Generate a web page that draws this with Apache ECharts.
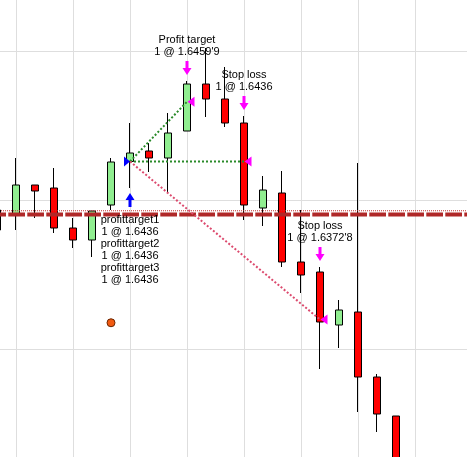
<!DOCTYPE html>
<html><head><meta charset="utf-8">
<script src="https://cdn.jsdelivr.net/npm/echarts@6/dist/echarts.min.js"></script>
<style>
html,body{margin:0;padding:0;background:#fff;width:467px;height:457px;overflow:hidden;position:relative}
#c{position:absolute;left:-3px;top:-98px;width:475px;height:596px}
</style>
</head><body><div id="c"></div>
<script>
// ---- data ----
const bars = ['1','2','3','4','5','6','7','8','9','10','11','12','13','14','15','16','17','18','19','20','21','22','23','24','25','26'];
const opens  = [1.64086,1.64150,1.64266,1.64254,1.64094,1.64046,1.64186,1.64360,1.64402,1.64374,1.64482,1.64670,1.64610,1.64514,1.64174,1.64234,1.63958,1.63918,1.63706,1.63758,1.63498,1.63342];
const closes = [1.64166,1.64266,1.64242,1.64094,1.64046,1.64162,1.64358,1.64394,1.64374,1.64474,1.64670,1.64610,1.64514,1.64186,1.64246,1.63958,1.63906,1.63718,1.63766,1.63498,1.63350,1.63106];
const lows   = [1.64078,1.64086,1.64134,1.64074,1.64014,1.63978,1.64166,1.64254,1.64318,1.64238,1.64482,1.64538,1.64498,1.64126,1.64102,1.63938,1.63834,1.63530,1.63614,1.63358,1.63278,1.63066];
const highs  = [1.64174,1.64374,1.64266,1.64334,1.64134,1.64162,1.64374,1.64514,1.64434,1.64554,1.64682,1.64814,1.64738,1.64542,1.64302,1.64322,1.64166,1.63938,1.63806,1.64354,1.63510,1.63342];

const entryBar = 7;
const entryPrice = 1.6436;
const entryNames = ['profittarget1','profittarget2','profittarget3'];
const entryQty = [1, 1, 1];

const exitBars = [10, 13, 17];
const exitPrices = [1.64599, 1.64360, 1.63728];
const exitNames = ['Profit target', 'Stop loss', 'Stop loss'];
const exitQty = [1, 1, 1];

const dashLevel = 1.64148;
const dotLevel = 1.64163;

const dotBar = 6;
const dotPrice = 1.63715;

// ---- helpers ----
function fmtPrice(p) {
  const s = p.toFixed(5);
  const main = s.slice(0, -1), last = s.slice(-1);
  return last === '0' ? main : main + "'" + last;
}
const candleData = bars.map((b, i) => (i < opens.length) ? [opens[i], closes[i], lows[i], highs[i]] : '-');
const lastBar = bars.length - 1;

const upArrow = 'path://M4.5,0 L9,7 L6,7 L6,14 L3,14 L3,7 L0,7 Z';
const downArrow = 'path://M3,0 L6,0 L6,7 L9,7 L4.5,14 L0,7 L3,7 Z';
const rightTri = 'path://M0,0 L6,5 L0,10 Z';
const leftTri = 'path://M0,5 L7,0 L7,10 Z';

const txt = { color: '#000', fontSize: 11, lineHeight: 12, fontFamily: 'Liberation Sans, Arial, sans-serif' };

const tradeLines = exitBars.map((xb, i) => ({
  type: 'line',
  data: [[entryBar, entryPrice], [xb, exitPrices[i]]],
  symbol: 'none',
  silent: true,
  z: 5,
  lineStyle: { width: 2, type: [2, 2], color: exitPrices[i] >= entryPrice ? '#2a8a2a' : '#dc4a6e' }
}));

const entryLabel = entryNames.map((n, i) => n + '\n' + entryQty[i] + ' @ ' + fmtPrice(entryPrice)).join('\n');

const chart = echarts.init(document.getElementById('c'), null, { renderer: 'canvas' });
chart.setOption({
  animation: false,
  backgroundColor: '#fff',
  grid: { left: 0, right: 0, top: 0, bottom: 0, containLabel: false },
  xAxis: {
    type: 'category', data: bars, boundaryGap: false,
    axisLine: { show: false }, axisTick: { show: false }, axisLabel: { show: false },
    splitLine: { show: true, interval: (i) => i % 3 === 1, lineStyle: { color: '#dedede', width: 1 } }
  },
  yAxis: [
    { type: 'value', min: 1.63014, max: 1.65398, axisLine: { show: false }, axisTick: { show: false }, axisLabel: { show: false }, splitLine: { show: false } },
    { type: 'value', min: 0, max: 4, interval: 1, position: 'right', axisLine: { show: false }, axisTick: { show: false }, axisLabel: { show: false }, splitLine: { show: true, lineStyle: { color: '#dedede', width: 1 } } }
  ],
  series: [
    {
      type: 'candlestick', data: candleData, barWidth: 8, z: 2, yAxisIndex: 0,
      itemStyle: { color: '#90ee90', color0: '#ff0000', borderColor: '#000', borderColor0: '#000', borderWidth: 1 }
    },
    {
      type: 'line', yAxisIndex: 0, z: 4, silent: true, symbol: 'none',
      data: [[0, dotLevel], [lastBar, dotLevel]],
      lineStyle: { color: '#c03030', width: 1, type: [1, 1] }
    },
    {
      type: 'line', yAxisIndex: 0, z: 4, silent: true, symbol: 'none',
      data: [[0, dashLevel], [lastBar, dashLevel]],
      lineStyle: { color: '#b02828', width: 4, type: [16.7, 2.3], dashOffset: 7.7 }
    },
    ...tradeLines,
    {
      type: 'scatter', z: 6, silent: true,
      data: [[dotBar, dotPrice]], symbol: 'circle', symbolSize: 8,
      itemStyle: { color: '#f25a10', borderColor: '#6b2500', borderWidth: 1, opacity: 1 }
    },
    {
      type: 'scatter', z: 6, silent: true,
      data: [[entryBar, entryPrice]], symbol: rightTri, symbolSize: [6, 10], symbolOffset: [-3, 0],
      itemStyle: { color: '#0000ff', opacity: 1 }
    },
    {
      type: 'scatter', z: 6, silent: true,
      data: exitBars.map((xb, i) => [xb, exitPrices[i]]), symbol: leftTri, symbolSize: [7, 10], symbolOffset: [4, 0],
      itemStyle: { color: '#ff00ff', opacity: 1 }
    },
    {
      type: 'scatter', z: 6, silent: true,
      data: [[entryBar, lows[entryBar]]], symbol: upArrow, symbolSize: [9, 14], symbolOffset: [0, 12],
      itemStyle: { color: '#0000ff', opacity: 1 },
      label: Object.assign({ show: true, position: 'bottom', distance: 7, formatter: () => entryLabel }, txt)
    },
    {
      type: 'scatter', z: 6, silent: true,
      data: exitBars.map((xb) => [xb, highs[xb]]), symbol: downArrow, symbolSize: [9, 14], symbolOffset: [0, -13],
      itemStyle: { color: '#ff00ff', opacity: 1 },
      label: Object.assign({ show: true, position: 'top', distance: 3,
        formatter: (p) => exitNames[p.dataIndex] + '\n' + exitQty[p.dataIndex] + ' @ ' + fmtPrice(exitPrices[p.dataIndex]) }, txt)
    }
  ]
});
</script></body></html>
